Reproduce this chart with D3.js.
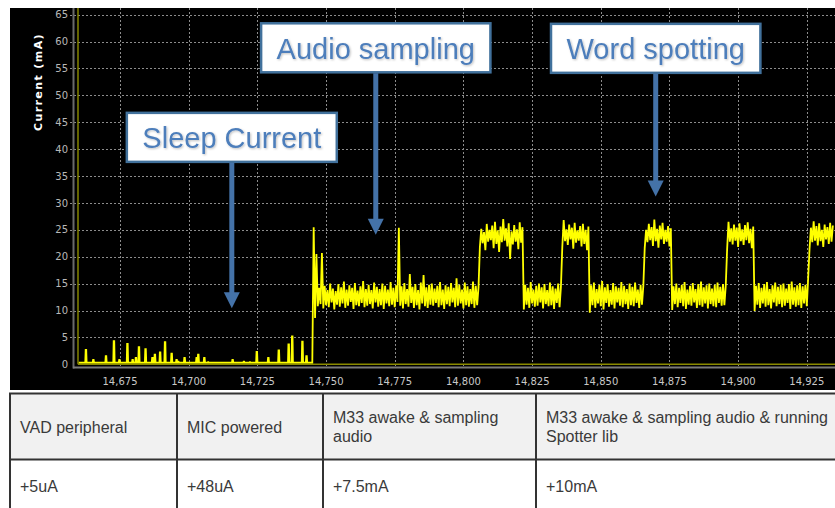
<!DOCTYPE html>
<html>
<head>
<meta charset="utf-8">
<script src="https://cdn.jsdelivr.net/npm/d3@7"></script>
<style>
  html, body { margin: 0; padding: 0; background: #fff; }
  svg { display: block; }
</style>
</head>
<body>
<div id="chart"></div>
<script>
const xTicks = [14675, 14700, 14725, 14750, 14775, 14800, 14825, 14850, 14875, 14900, 14925];
const yTicks = [0, 5, 10, 15, 20, 25, 30, 35, 40, 45, 50, 55, 60, 65];

// sleep phase: baseline plus short spikes [time, mA]
const sleepStart = 14660;
const sleepEnd = 14745;
const sleepBase = 0.3;
const sleepSpikes = [
  [14662.6, 2.7], [14665.3, 0.8], [14669.9, 1.5], [14672.8, 4.3], [14674.8, 0.8],
  [14677.7, 3.8], [14679.6, 0.8], [14680.8, 1.2], [14681.9, 3.2], [14684.3, 2.8],
  [14686.8, 1.2], [14687.7, 1.8], [14689.6, 2.2], [14691.4, 4.1], [14693.8, 2.0],
  [14695.6, 0.8], [14696.2, 0.5], [14698.5, 1.2], [14702.9, 1.2], [14703.5, 1.8],
  [14705.7, 1.2], [14707.1, 0.4], [14711.4, 0.3], [14716.0, 0.8], [14720.1, 0.5],
  [14722.3, 0.4], [14724.8, 2.3], [14729.0, 1.2], [14732.8, 2.6], [14736.4, 3.7],
  [14737.7, 5.2], [14741.4, 4.2], [14742.9, 1.5]
];

// awake phase: one low / high reading per time unit, starting at 14745
const awakeStart = 14745;
const traceLo = [
  0.3, 8.6, 10.8, 11.2, 10.4, 11.0, 10.6, 11.5, 10.2, 11.1,
  10.7, 11.3, 10.5, 10.9, 11.6, 10.3, 11.0, 10.8, 11.4, 10.6,
  10.9, 11.2, 10.4, 11.5, 10.7, 11.0, 10.3, 11.3, 10.8, 11.1,
  10.6, 11.6, 10.9, 10.4, 11.2, 10.7, 11.4, 10.5, 11.0, 10.2,
  11.3, 10.8, 10.5, 11.1, 10.9, 11.4, 10.6, 11.0, 10.3, 11.2,
  10.8, 11.5, 10.6, 10.9, 11.3, 10.4, 11.0, 10.7, 11.2, 10.5,
  11.0, 21.8, 22.5, 21.2, 22.8, 23.1, 21.6, 22.4, 20.9, 22.7,
  23.0, 21.9, 19.6, 22.3, 22.8, 21.4, 22.6, 10.2, 11.1, 10.5,
  11.3, 10.7, 10.9, 11.5, 10.4, 11.2, 10.8, 11.0, 10.3, 11.4,
  10.6, 21.8, 22.9, 22.2, 23.2, 21.5, 22.6, 23.0, 21.9, 22.4,
  21.2, 9.6, 11.0, 10.5, 11.3, 10.8, 10.2, 11.4, 10.7, 11.1,
  10.4, 11.5, 10.9, 10.6, 11.2, 10.3, 11.0, 10.8, 11.4, 10.5,
  11.1, 21.6, 22.7, 23.1, 22.0, 22.9, 21.7, 23.2, 22.4, 22.8,
  21.9, 10.1, 11.2, 10.6, 11.4, 10.8, 10.3, 11.1, 10.9, 11.5,
  10.5, 11.0, 10.7, 11.3, 10.4, 11.2, 10.8, 10.6, 11.4, 10.9,
  11.0, 21.4, 22.8, 22.3, 23.0, 21.8, 22.9, 22.2, 23.1, 22.5,
  21.6, 9.9, 11.1, 10.5, 11.3, 10.7, 11.0, 10.4, 11.5, 10.8,
  11.2, 10.6, 10.9, 11.4, 10.3, 11.1, 10.7, 11.0, 10.5, 11.3,
  10.8, 21.5, 22.7, 23.0, 22.1, 22.9, 21.8, 23.2, 22.4, 22.8
];
const traceHi = [
  25.5, 20.5, 14.2, 20.7, 14.6, 13.8, 15.0, 14.1, 13.6, 14.9,
  14.3, 15.4, 13.9, 14.7, 14.2, 15.1, 13.7, 14.5, 15.5, 14.0,
  14.8, 13.8, 15.2, 14.4, 14.0, 15.0, 14.6, 13.9, 15.3, 14.2,
  14.7, 25.4, 14.5, 15.1, 14.0, 16.8, 14.4, 14.9, 13.8, 15.2,
  16.6, 14.3, 14.8, 15.0, 14.1, 14.6, 15.3, 13.9, 14.7, 14.4,
  15.1, 14.2, 16.0, 14.8, 13.9, 15.2, 14.5, 14.0, 15.4, 14.6,
  14.3, 25.2, 24.6, 26.1, 25.0, 25.8, 26.5, 24.9, 25.6, 27.0,
  25.3, 26.2, 24.7, 25.9, 25.1, 26.4, 25.5, 14.8, 14.2, 15.3,
  13.9, 14.6, 15.0, 14.3, 14.9, 13.8, 15.2, 14.5, 14.1, 15.0,
  14.4, 26.8, 25.1, 26.0, 25.4, 26.3, 24.9, 25.7, 26.1, 25.0,
  25.6, 14.7, 15.2, 14.0, 14.8, 15.5, 14.3, 14.9, 13.8, 15.1,
  14.5, 14.2, 15.3, 14.6, 14.0, 15.0, 14.4, 15.2, 13.9, 14.8,
  14.6, 25.0, 26.1, 25.5, 26.9, 25.2, 25.8, 26.3, 25.0, 25.7,
  25.3, 14.5, 15.0, 14.2, 14.8, 15.3, 13.9, 14.6, 15.1, 14.0,
  14.9, 15.4, 14.3, 14.7, 15.0, 14.1, 14.8, 15.2, 14.4, 14.9,
  14.6, 26.5, 25.3, 26.0, 25.4, 26.2, 25.1, 25.9, 26.4, 25.2,
  25.6, 14.6, 15.1, 14.2, 14.9, 15.3, 14.0, 14.7, 15.2, 14.4,
  14.8, 15.0, 14.1, 14.9, 15.4, 14.3, 14.7, 15.1, 14.5, 14.8,
  16.0, 25.4, 26.6, 25.7, 26.2, 25.0, 26.0, 25.5, 26.3, 25.8
];

// call-outs: label, time the arrow points at, arrow tip (mA), box top (mA)
const callouts = [
  { label: 'Sleep Current', t: 14715.7, tip: 10.4, top: 46.75 },
  { label: 'Audio sampling', t: 14768.1, tip: 24.1, top: 63.4 },
  { label: 'Word spotting', t: 14870.0, tip: 31.2, top: 63.3 }
];

// table under the plot
const tableHeads = [
  ['VAD peripheral'],
  ['MIC powered'],
  ['M33 awake & sampling', 'audio'],
  ['M33 awake & sampling audio & running', 'Spotter lib']
];
const tableValues = ['+5uA', '+48uA', '+7.5mA', '+10mA'];

// ---- drawing ----
const width = 835, height = 508;
const svg = d3.select('#chart').append('svg')
  .attr('width', width).attr('height', height)
  .attr('viewBox', `0 0 ${width} ${height}`);

const x = d3.scaleLinear().domain([14660, 14940]).range([78.8, 848]);
const y = d3.scaleLinear().domain([0, 65]).range([364.3, 14.7]);

const plotLeft = 78, plotTop = 8, plotBottom = 367.5;

// black panel
svg.append('rect')
  .attr('x', 10).attr('y', 8)
  .attr('width', width - 10).attr('height', 382)
  .attr('fill', '#000');

svg.append('clipPath').attr('id', 'plotclip')
  .append('rect')
  .attr('x', plotLeft).attr('y', plotTop)
  .attr('width', width - plotLeft).attr('height', plotBottom - plotTop);

// grid
const grid = svg.append('g')
  .attr('stroke', '#8c8c8c').attr('stroke-width', 1)
  .attr('stroke-dasharray', '2,2');
grid.selectAll('line.h').data(yTicks.filter(d => d > 0)).join('line')
  .attr('class', 'h')
  .attr('x1', 70).attr('x2', width)
  .attr('y1', d => Math.round(y(d)) + 0.5).attr('y2', d => Math.round(y(d)) + 0.5);
grid.selectAll('line.v').data(xTicks).join('line')
  .attr('class', 'v')
  .attr('x1', d => Math.round(x(d)) + 0.5).attr('x2', d => Math.round(x(d)) + 0.5)
  .attr('y1', plotTop).attr('y2', plotBottom);

// axis frame
svg.append('line')
  .attr('x1', 73.5).attr('x2', 73.5).attr('y1', plotTop).attr('y2', 368.5)
  .attr('stroke', '#6a6a6a').attr('stroke-width', 2);
svg.append('line')
  .attr('x1', 73).attr('x2', width).attr('y1', plotBottom).attr('y2', plotBottom)
  .attr('stroke', '#7a7a7a').attr('stroke-width', 2);

// olive zero line and left edge
svg.append('line')
  .attr('x1', plotLeft).attr('x2', width).attr('y1', y(0)).attr('y2', y(0))
  .attr('stroke', '#8a8a00').attr('stroke-width', 1.5);
svg.append('line')
  .attr('x1', plotLeft).attr('x2', plotLeft).attr('y1', plotTop).attr('y2', y(0))
  .attr('stroke', '#8f8f00').attr('stroke-width', 1.4);

// tick labels
const tickFont = '"DejaVu Sans", Verdana, sans-serif';
svg.append('g').selectAll('text').data(yTicks).join('text')
  .attr('x', 68).attr('y', d => y(d))
  .attr('dy', '0.36em')
  .attr('text-anchor', 'end')
  .attr('font-family', tickFont).attr('font-size', 10)
  .attr('fill', '#b8b8b8')
  .text(d => d);
svg.append('g').selectAll('text').data(xTicks).join('text')
  .attr('x', d => x(d)).attr('y', 385)
  .attr('text-anchor', 'middle')
  .attr('font-family', tickFont).attr('font-size', 10)
  .attr('fill', '#c8c8c8')
  .text(d => d3.format(',')(d));

svg.append('text')
  .attr('transform', 'translate(38,82) rotate(-90)')
  .attr('dy', '0.36em')
  .attr('text-anchor', 'middle')
  .attr('font-family', tickFont).attr('font-size', 11)
  .attr('font-weight', 'bold').attr('letter-spacing', 1.4)
  .attr('fill', '#fff')
  .text('Current (mA)');

// trace
const pts = [[sleepStart, sleepBase]];
sleepSpikes.forEach(([t, v]) => {
  pts.push([t - 0.25, sleepBase], [t - 0.1, v], [t + 0.1, v], [t + 0.25, sleepBase]);
});
pts.push([sleepEnd, sleepBase]);
traceLo.forEach((lo, i) => {
  const t = awakeStart + i;
  pts.push([t, lo], [t + 0.5, traceHi[i]]);
});

const line = d3.line().x(d => x(d[0])).y(d => y(d[1]));
svg.append('path')
  .attr('clip-path', 'url(#plotclip)')
  .attr('d', line(pts))
  .attr('fill', 'none')
  .attr('stroke', '#ffff00')
  .attr('stroke-width', 1.8)
  .attr('stroke-linejoin', 'miter');

// call-outs
const blue = '#4472a8';
const defs = svg.append('defs');
const f = defs.append('filter').attr('id', 'soft')
  .attr('x', '-10%').attr('y', '-20%').attr('width', '120%').attr('height', '140%');
f.append('feDropShadow').attr('dx', 1).attr('dy', 1)
  .attr('stdDeviation', 0.8).attr('flood-color', '#000').attr('flood-opacity', 0.25);

callouts.forEach(c => {
  const g = svg.append('g');
  const cx = x(c.t);
  const top = y(c.top);
  const tipY = y(c.tip);
  const boxH = 49;

  const txt = g.append('text')
    .attr('x', cx).attr('y', top + 35.5)
    .attr('text-anchor', 'middle')
    .attr('font-family', '"Liberation Sans", Arial, sans-serif')
    .attr('font-size', 29)
    .attr('fill', '#4d7ebb')
    .attr('filter', 'url(#soft)')
    .text(c.label);
  const tw = txt.node().getComputedTextLength();
  const boxW = tw + 31;

  g.insert('rect', 'text')
    .attr('x', cx - boxW / 2).attr('y', top)
    .attr('width', boxW).attr('height', boxH)
    .attr('fill', '#fff')
    .attr('stroke', '#41719c').attr('stroke-width', 2.5);

  g.append('line')
    .attr('x1', cx).attr('x2', cx)
    .attr('y1', top + boxH + 1).attr('y2', tipY - 15)
    .attr('stroke', blue).attr('stroke-width', 5);
  g.append('path')
    .attr('d', `M${cx - 8},${tipY - 16}L${cx + 8},${tipY - 16}L${cx},${tipY}Z`)
    .attr('fill', blue);
});

// table
const colX = [10, 177, 323, 536, 900];
const tTop = 393.5, tMid = 459.5, tBot = 540;
const tableFont = '"Liberation Sans", Arial, sans-serif';
const tbl = svg.append('g');
tbl.append('rect')
  .attr('x', colX[0]).attr('y', tTop)
  .attr('width', colX[4] - colX[0]).attr('height', tMid - tTop)
  .attr('fill', '#f1f1f1');
tbl.selectAll('line.col').data(colX.slice(0, 4)).join('line')
  .attr('class', 'col')
  .attr('x1', d => d).attr('x2', d => d)
  .attr('y1', tTop).attr('y2', tBot)
  .attr('stroke', '#333').attr('stroke-width', 2);
tbl.selectAll('line.row').data([tTop, tMid]).join('line')
  .attr('class', 'row')
  .attr('x1', colX[0] - 1).attr('x2', width)
  .attr('y1', d => d).attr('y2', d => d)
  .attr('stroke', '#333').attr('stroke-width', 2);

tableHeads.forEach((lines, i) => {
  const t = tbl.append('text')
    .attr('font-family', tableFont).attr('font-size', 16)
    .attr('fill', '#3a3a3a');
  const y0 = lines.length === 1 ? 433 : 423;
  lines.forEach((s, j) => {
    t.append('tspan').attr('x', colX[i] + 10).attr('y', y0 + j * 19).text(s);
  });
});
tbl.selectAll('text.val').data(tableValues).join('text')
  .attr('class', 'val')
  .attr('x', (d, i) => colX[i] + 10).attr('y', 492)
  .attr('font-family', tableFont).attr('font-size', 16)
  .attr('fill', '#3a3a3a')
  .text(d => d);
</script>
</body>
</html>
